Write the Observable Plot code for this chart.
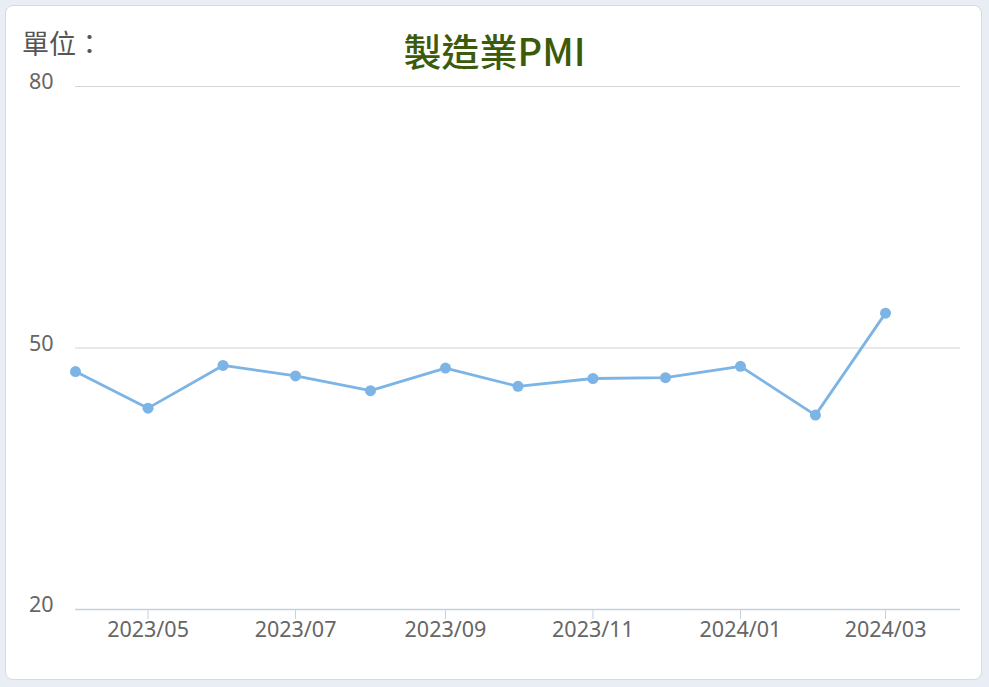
<!DOCTYPE html>
<html>
<head>
<meta charset="utf-8">
<script src="https://cdn.jsdelivr.net/npm/d3@7"></script>
<script src="https://cdn.jsdelivr.net/npm/@observablehq/plot@0.6"></script>
<style>
  html, body { margin: 0; padding: 0; }
  body { width: 989px; height: 687px; background: #e8eef3; position: relative; overflow: hidden;
         font-family: "Noto Sans CJK TC", "Noto Sans", sans-serif; }
  #card { position: absolute; left: 5px; top: 5px; width: 975px; height: 673px; background: #fff;
          border: 1px solid #d3dbe2; border-radius: 8px; }
  #unit { position: absolute; left: 22px; top: 24px; font-size: 27px; line-height: 38px; color: #555; }
  #title { position: absolute; left: 0; width: 989px; top: 27px; text-align: center; font-size: 38px;
           line-height: 46px; font-weight: 500; color: #3b5a0a; }
  #chart { position: absolute; left: 0; top: 0; }
</style>
</head>
<body>
<div id="card"></div>
<div id="chart"></div>
<div id="unit">單位：</div>
<div id="title">製造業PMI</div>
<script>
const months = ["2023-04","2023-05","2023-06","2023-07","2023-08","2023-09","2023-10","2023-11","2023-12","2024-01","2024-02","2024-03"];
const pmi = [47.3, 43.1, 48.0, 46.8, 45.1, 47.7, 45.6, 46.5, 46.6, 47.9, 42.3, 54.0];
const xTickMonths = ["2023-05","2023-07","2023-09","2023-11","2024-01","2024-03"];
const xDomain = ["2023-04","2024-04"];
const yTicks = [20, 50, 80];
const yGrid = [50, 80];

const parse = d3.utcParse("%Y-%m");
const fmt = d3.utcFormat("%Y/%m");
const data = months.map((m, i) => ({date: parse(m), value: pmi[i]}));

const lineColor = "#7db4e6";
const axisColor = "#c3d2df";

const plot = Plot.plot({
  width: 989,
  height: 687,
  marginLeft: 75,
  marginRight: 29,
  marginTop: 86,
  marginBottom: 78,
  style: {fontFamily: '"Noto Sans", "Noto Sans CJK TC", sans-serif', fontSize: "21.5px", color: "#666", background: "transparent"},
  x: {type: "utc", domain: xDomain.map(parse), label: null},
  y: {domain: [20, 80], label: null},
  marks: [
    Plot.ruleY(yGrid, {stroke: "#d4d4d4", strokeWidth: 1.2}),
    Plot.ruleY([20], {stroke: axisColor, strokeWidth: 1.5}),
    Plot.axisX({ticks: xTickMonths.map(parse), tickFormat: fmt, tickSize: 10, tickPadding: 2, stroke: axisColor, fill: "#666", strokeOpacity: 1}),
    Plot.axisY({ticks: yTicks, tickSize: 0, tickPadding: 22, fill: "#666", dy: -4}),
    Plot.line(data, {x: "date", y: "value", stroke: lineColor, strokeWidth: 2.8}),
    Plot.dot(data, {x: "date", y: "value", r: 5.5, fill: lineColor, stroke: "none"})
  ]
});
document.getElementById("chart").appendChild(plot);
</script>
</body>
</html>
